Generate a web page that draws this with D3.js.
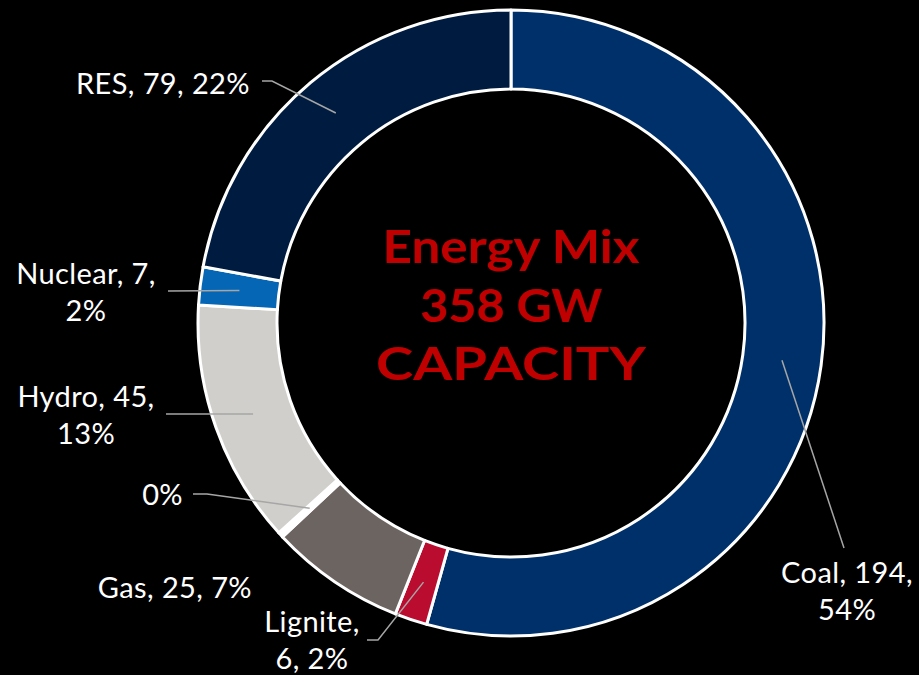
<!DOCTYPE html>
<html>
<head>
<meta charset="utf-8">
<script src="https://cdn.jsdelivr.net/npm/d3@7/dist/d3.min.js"></script>
<style>
  html, body { margin: 0; padding: 0; background: #000; }
  svg { display: block; }
</style>
</head>
<body>
<svg id="chart" width="919" height="675"></svg>
<script>
// Installed capacity by source, GW
const categories = ["Coal", "Lignite", "Gas", "Oil", "Hydro", "Nuclear", "RES"];
const capacity   = [194, 6, 25, 1, 45, 7, 79];
const titleLines = ["Energy Mix", "358 GW", "CAPACITY"];

const colors = {
  Coal: "#00306A", Lignite: "#BA0C2F", Gas: "#6B6461", Oil: "#FFFFFF",
  Hydro: "#D0CFCB", Nuclear: "#0566B5", RES: "#001B40"
};

const W = 919, H = 675;
const cx = 511, cy = 323;
const rOuter = 313, rInner = 234;
const labelFont = "Lato, 'DejaVu Sans', sans-serif";

const svg = d3.select("#chart");
svg.append("rect").attr("width", W).attr("height", H).attr("fill", "#000");

const data = categories.map((c, i) => ({ name: c, value: capacity[i] }));
const total = d3.sum(capacity);
const pct = d => Math.round(d.value / total * 100) + "%";

const pie = d3.pie().value(d => d.value).sort(null);
const arc = d3.arc().innerRadius(rInner).outerRadius(rOuter);
const arcs = pie(data);

const g = svg.append("g").attr("transform", `translate(${cx},${cy})`);
g.selectAll("path.slice")
  .data(arcs)
  .join("path")
  .attr("class", "slice")
  .attr("d", arc)
  .attr("fill", d => colors[d.data.name])
  .attr("stroke", "#fff")
  .attr("stroke-width", 3)
  .attr("stroke-linejoin", "round");

// Label placement: text lines, anchor, baseline of first line, and leader path to the slice
const labelLayout = {
  RES:     { lines: d => [`${d.name}, ${d.value}, ${pct(d)}`], x: 250, y: 94, anchor: "end",
             leader: [[262, 81], [272, 81]] },
  Nuclear: { lines: d => [`${d.name}, ${d.value},`, pct(d)], x: 86, y: 284, anchor: "middle",
             leader: [[168, 291]] },
  Hydro:   { lines: d => [`${d.name}, ${d.value},`, pct(d)], x: 86, y: 407, anchor: "middle",
             leader: [[166, 414]] },
  Oil:     { lines: d => [pct(d)], x: 183, y: 505, anchor: "end",
             leader: [[193, 494], [207, 494]] },
  Gas:     { lines: d => [`${d.name}, ${d.value}, ${pct(d)}`], x: 252, y: 598, anchor: "end",
             leader: null },
  Lignite: { lines: d => [`${d.name},`, `${d.value}, ${pct(d)}`], x: 312, y: 632, anchor: "middle",
             leader: [[367, 640], [378, 640]] },
  Coal:    { lines: d => [`${d.name}, ${d.value},`, pct(d)], x: 847, y: 583, anchor: "middle",
             leader: [[844, 548]] }
};

const lineGen = d3.line();
const labels = svg.append("g");
arcs.forEach(a => {
  const L = labelLayout[a.data.name];
  if (L.leader) {
    const c = arc.centroid(a);
    const pts = L.leader.concat([[c[0] + cx, c[1] + cy]]);
    labels.append("path")
      .attr("d", lineGen(pts))
      .attr("fill", "none")
      .attr("stroke", "#A6A6A6")
      .attr("stroke-width", 1.5);
  }
  const t = labels.append("text")
    .attr("x", L.x).attr("y", L.y)
    .attr("text-anchor", L.anchor)
    .attr("fill", "#fff")
    .attr("font-family", labelFont)
    .attr("font-size", 29)
    .attr("letter-spacing", 0.4);
  L.lines(a.data).forEach((s, i) => {
    t.append("tspan").attr("x", L.x).attr("dy", i === 0 ? 0 : 37).text(s);
  });
});

// Centre title, each line stretched to its set width
const titleWidths = [257, 182, 270];
const title = svg.append("g");
titleLines.forEach((s, i) => {
  title.append("text")
    .attr("x", cx).attr("y", 263 + i * 58.5)
    .attr("text-anchor", "middle")
    .attr("fill", "#C00000")
    .attr("font-family", labelFont)
    .attr("font-weight", "bold")
    .attr("font-size", 45)
    .attr("textLength", titleWidths[i])
    .attr("lengthAdjust", "spacingAndGlyphs")
    .text(s);
});
</script>
</body>
</html>
